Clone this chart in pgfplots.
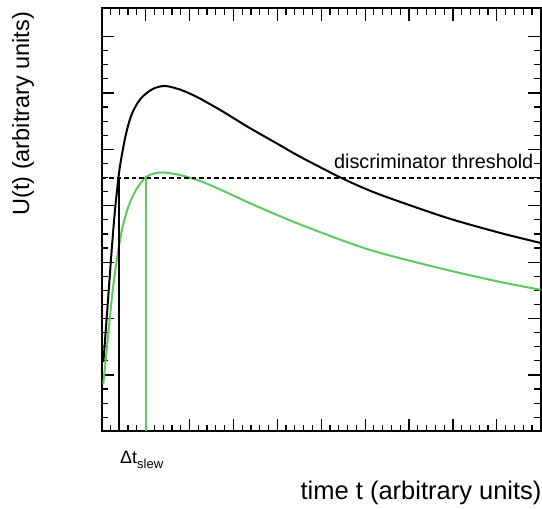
\documentclass[border=0pt]{standalone}
\usepackage{pgfplots}
\pgfplotsset{compat=1.18}
\usepackage{fontspec}
\setmainfont{Liberation Sans}
\definecolor{rgreen}{RGB}{95,200,95}
\begin{document}
\begin{tikzpicture}
\useasboundingbox (0,0) rectangle (542bp,509bp);
\begin{axis}[
  at={(101.7bp,77.6bp)}, anchor=south west,
  scale only axis, width=439bp, height=423.1bp,
  xmin=0, xmax=10, ymin=0, ymax=7.5,
  xtick={0,...,10}, ytick={0,...,7},
  minor x tick num=4, minor y tick num=3,
  xticklabels={}, yticklabels={},
  tick align=inside, xtick pos=both, ytick pos=both,
  major tick length=12.5bp, minor tick length=6.5bp,
  tick style={black, line width=1.2bp},
  axis line style={line width=2bp},
  xlabel={time t (arbitrary units)},
  ylabel={U(t) (arbitrary units)},
  xlabel style={at={(axis description cs:1.0023,-0.1621)}, anchor=base east, font=\fontsize{25.5bp}{30bp}\selectfont, inner sep=0pt},
  ylabel style={at={(axis description cs:-0.1793,0.992)}, anchor=east, font=\fontsize{23.5bp}{28bp}\selectfont, inner sep=0pt},
  clip=true,
]
\addplot[black, line width=2bp, smooth] coordinates {
(0.039,1.23) (0.059,1.44) (0.144,2.33) (0.228,3.22) (0.303,3.926) (0.383,4.505)
(0.428,4.759) (0.485,5.007) (0.531,5.193) (0.599,5.415) (0.683,5.619) (0.804,5.805)
(0.948,5.947) (1.175,6.074) (1.442,6.124) (1.784,6.06) (2.0,5.99) (2.240,5.90)
(2.695,5.70) (3.0,5.555) (3.378,5.375) (4.0,5.10) (4.517,4.87) (5.428,4.505)
(6.1,4.27) (6.795,4.07) (7.930,3.77) (9.070,3.52) (10.0,3.34)
};
\addplot[rgreen, line width=2bp, smooth] coordinates {
(0.036,0.835) (0.137,1.62) (0.246,2.47) (0.364,3.15) (0.42,3.40) (0.474,3.62)
(0.606,3.98) (0.781,4.28) (1.002,4.505) (1.190,4.57) (1.403,4.59) (1.784,4.545)
(2.239,4.44) (2.695,4.29) (3.378,4.045) (4.0,3.835) (4.517,3.67) (5.428,3.40)
(6.1,3.22) (6.795,3.07) (7.930,2.85) (9.070,2.65) (10.0,2.51)
};
\addplot[black, line width=2bp, dash pattern=on 4.5bp off 3bp] coordinates {(0,4.5) (10,4.5)};
\addplot[black, line width=2bp] coordinates {(0.383,0) (0.383,4.5)};
\addplot[rgreen, line width=2bp] coordinates {(1.002,0) (1.002,4.5)};
\node[anchor=base east, inner sep=0pt, font=\fontsize{19.8bp}{24bp}\selectfont] at (axis cs:9.836,4.652) {discriminator threshold};
\end{axis}
\node[anchor=base west, inner sep=0pt, font=\fontsize{18bp}{22bp}\selectfont] at (120bp,45.7bp) {Δt\raisebox{-5bp}{\fontsize{13bp}{15bp}\selectfont slew}};
\end{tikzpicture}
\end{document}
